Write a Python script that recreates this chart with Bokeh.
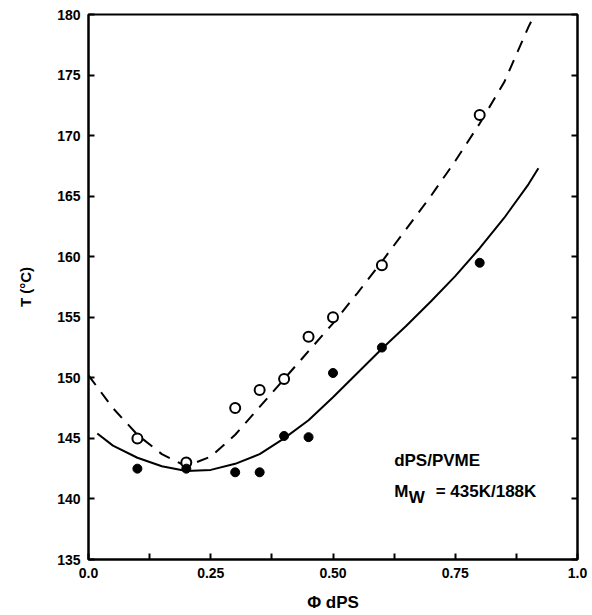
from bokeh.plotting import figure
from bokeh.models import FixedTicker, Label, LinearAxis
from bokeh.embed import file_html
from bokeh.resources import INLINE

# Data
phi_open = [0.1, 0.2, 0.3, 0.35, 0.4, 0.45, 0.5, 0.6, 0.8]
T_open = [145.0, 143.0, 147.5, 149.0, 149.9, 153.4, 155.0, 159.3, 171.7]
phi_fill = [0.1, 0.2, 0.3, 0.35, 0.4, 0.45, 0.5, 0.6, 0.8]
T_fill = [142.5, 142.5, 142.2, 142.2, 145.2, 145.1, 150.4, 152.5, 159.5]

phi_solid = [0.018, 0.05, 0.1, 0.15, 0.2, 0.25, 0.3, 0.35, 0.4, 0.45, 0.5,
             0.55, 0.6, 0.65, 0.7, 0.75, 0.8, 0.85, 0.9, 0.92]
T_solid = [145.4, 144.4, 143.4, 142.7, 142.3, 142.4, 142.9, 143.7, 145.0, 146.5, 148.4,
           150.4, 152.4, 154.3, 156.3, 158.4, 160.7, 163.2, 166.0, 167.3]

phi_dash = [0.0, 0.05, 0.1, 0.15, 0.2, 0.25, 0.3, 0.35, 0.4, 0.45, 0.5,
            0.55, 0.6, 0.65, 0.7, 0.75, 0.8, 0.85, 0.9, 0.91]
T_dash = [150.2, 147.5, 145.3, 143.7, 142.7, 143.5, 145.3, 147.6, 149.9, 152.2, 154.5,
          157.0, 159.6, 162.3, 165.0, 167.9, 171.0, 174.4, 179.0, 179.8]

x_ticks = [0.0, 0.25, 0.5, 0.75, 1.0]
x_tick_labels = ["0.0", "0.25", "0.50", "0.75", "1.0"]
x_minor = [0.125, 0.375, 0.625, 0.875]
y_ticks = [135, 140, 145, 150, 155, 160, 165, 170, 175, 180]

FONT = "Liberation Sans"

p = figure(width=592, height=615, x_range=(0, 1), y_range=(135, 180),
           output_backend="svg", toolbar_location=None,
           min_border_left=88, min_border_right=15, min_border_top=14, min_border_bottom=56)
p.grid.visible = False
p.background_fill_color = "white"
p.border_fill_color = "white"
p.outline_line_color = "black"
p.outline_line_width = 2

for ax in (p.xaxis[0], p.yaxis[0]):
    ax.axis_line_width = 2
    ax.axis_line_color = "black"
    ax.major_tick_in = 6
    ax.major_tick_out = 0
    ax.minor_tick_in = 6
    ax.minor_tick_out = 0
    ax.major_tick_line_width = 2
    ax.minor_tick_line_width = 2
    ax.major_tick_line_color = "black"
    ax.minor_tick_line_color = "black"
    ax.major_label_text_font = FONT
    ax.major_label_text_font_style = "bold"
    ax.major_label_text_font_size = "14px"
    ax.major_label_text_color = "black"
    ax.major_label_standoff = 8

p.xaxis[0].ticker = FixedTicker(ticks=x_ticks, minor_ticks=x_minor)
p.xaxis[0].major_label_overrides = {t: l for t, l in zip(x_ticks, x_tick_labels)}
p.xaxis[0].axis_label = "Φ dPS"
p.xaxis[0].axis_label_text_font = FONT
p.xaxis[0].axis_label_text_font_style = "bold"
p.xaxis[0].axis_label_text_font_size = "17px"
p.xaxis[0].axis_label_text_color = "black"
p.xaxis[0].axis_label_standoff = 12

p.yaxis[0].ticker = FixedTicker(ticks=y_ticks, minor_ticks=[])
p.yaxis[0].axis_label = "T (°C)"
p.yaxis[0].axis_label_text_font = FONT
p.yaxis[0].axis_label_text_font_style = "bold"
p.yaxis[0].axis_label_text_font_size = "15px"
p.yaxis[0].axis_label_text_color = "black"
p.yaxis[0].axis_label_standoff = 20

right = LinearAxis(ticker=FixedTicker(ticks=y_ticks, minor_ticks=[]),
                   major_label_text_font_size="0px", axis_line_width=2,
                   major_tick_in=6, major_tick_out=0, major_tick_line_width=2,
                   minor_tick_in=0, minor_tick_out=0)
right.major_label_text_alpha = 0
p.add_layout(right, "right")

p.line(phi_solid, T_solid, line_color="black", line_width=2)
p.line(phi_dash, T_dash, line_color="black", line_width=2, line_dash="12 9")
p.scatter(phi_open, T_open, marker="circle", size=10, fill_color="white",
          line_color="black", line_width=2)
p.scatter(phi_fill, T_fill, marker="circle", size=9, fill_color="black",
          line_color="black", line_width=1)

def lab(x, y, text, size, style="bold", **kw):
    p.add_layout(Label(x=x, y=y, text=text, text_font=FONT, text_font_style=style,
                       text_font_size=size, text_color="black", **kw))

# annotation
lab(0.625, 142.4, "dPS/PVME", "17px")
lab(0.625, 139.8, "M", "17px")
lab(0.655, 139.3, "W", "17px")
lab(0.71, 139.8, "=  435K/188K", "17px")

open("out.html", "w").write(file_html(p, INLINE))
